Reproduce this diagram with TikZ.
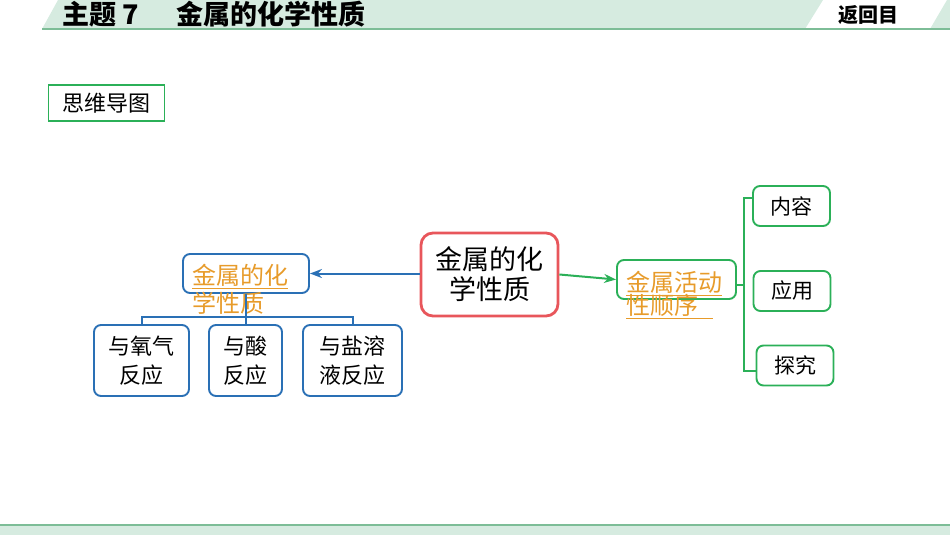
\documentclass[tikz,border=0pt]{standalone}
\usepackage{fontspec}
\newfontfamily\cjk{Noto Sans CJK SC}
\usetikzlibrary{arrows.meta, positioning}
\definecolor{bandgreen}{HTML}{D6EBE0}
\definecolor{bandline}{HTML}{7DBD97}
\definecolor{mapgreen}{HTML}{2BB058}
\definecolor{mapblue}{HTML}{2A70B5}
\definecolor{mapred}{HTML}{E8565B}
\definecolor{linkorange}{HTML}{E79B2A}
\newcommand{\fs}[2]{\fontsize{#1}{#2}\selectfont}
\newcommand{\tightlines}{\setlength{\lineskiplimit}{-20pt}}
\newcommand{\ul}[1]{\vtop{\hbox{#1}\kern1.2pt\hrule height 1.6pt}}

\begin{document}
\begin{tikzpicture}[x=1pt, y=-1pt, >=Stealth, font=\cjk,
    box/.style={draw, rounded corners=7pt, line width=1.9pt, inner sep=0pt, align=center},
    bluebox/.style={box, draw=mapblue},
    greenbox/.style={box, draw=mapgreen},
    leaf/.style={minimum height=71pt, font=\cjk\fs{22}{29}},
    topic/.style={minimum width=77pt, minimum height=40pt, font=\cjk\fs{21}{21}},
    linktext/.style={text=linkorange, align=left, inner sep=0pt, anchor=north west},
    link/.style={line width=2pt}]
    \useasboundingbox (0,0) rectangle (950,535);
    \fill[bandgreen] (42,29) -- (58,0) -- (823,0) -- (805,29) -- cycle;
    \fill[bandgreen] (930,29) -- (947,0) -- (950,0) -- (950,29) -- cycle;
    \draw[bandline, line width=2pt] (42,29.5) -- (950,29.5);
    \fill[bandgreen] (0,525) rectangle (950,535);
    \draw[bandline, line width=2pt] (0,524.5) -- (950,524.5);
    \node[anchor=base west, inner sep=0pt, font=\cjk\bfseries\fs{27}{27}] (title) at (62,25) {主题 7\hspace{1.4em}金属的化学性质};
    \node[anchor=base west, inner sep=0pt, font=\cjk\bfseries\fs{20}{20}] (back) at (838,23) {返回目};

    \node[draw=mapgreen, line width=1.3pt, minimum width=116pt, minimum height=36pt, font=\cjk\fs{22}{22}] (mindmap) at (106.5,103) {思维导图};

    \node[box, draw=mapred, line width=2.8pt, rounded corners=12pt, minimum width=137pt, minimum height=83pt, font=\cjk\fs{27}{30}] (metal) at (489.5,274.5) {金属的化\\学性质};
    \node[bluebox, minimum width=126pt, minimum height=39pt] (chem) at (246,273.5) {};
    \node[linktext, font=\cjk\fs{24}{28}\tightlines] (chemlink) at (192,264) {\ul{金属的化}\\\ul{学性质}};
    \node[greenbox, minimum width=119pt, minimum height=39pt] (order) at (676.5,279.5) {};
    \node[linktext, font=\cjk\fs{24}{23}\tightlines] (orderlink) at (626,271) {\ul{金属活动}\\\ul{性顺序\hspace{0.6em}}};

    \node[bluebox, leaf, minimum width=95pt] (oxygen) at (141.5,360.5) {与氧气\\反应};
    \node[bluebox, leaf, minimum width=73pt] (acid) at (245.5,360.5) {与酸\\反应};
    \node[bluebox, leaf, minimum width=99pt] (salt) at (352.5,360.5) {与盐溶\\液反应};

    \node[greenbox, topic] (content) at (791.5,206) {内容};
    \node[greenbox, topic] (usage) at (792,291) {应用};
    \node[greenbox, topic] (explore) at (795,365.5) {探究};

    \draw[->, link, mapblue] (metal.west |- chem.east) -- (chem.east);
    \draw[->, link, mapgreen] (metal.east) -- (order.west);
    \coordinate (split) at (247,317);
    \draw[link, mapblue] (chem.south) -- (chem.south |- split);
    \draw[link, mapblue] (oxygen.north) |- (salt.north |- split) -- (salt.north);
    \draw[link, mapblue] (acid.north) -- (acid.north |- split);
    \coordinate (fork) at (744,285);
    \draw[link, mapgreen] (order.east |- fork) -- (fork);
    \draw[link, mapgreen] ([yshift=8pt]content.west) -| (fork) |- ([yshift=-5pt]explore.west);
\end{tikzpicture}
\end{document}
